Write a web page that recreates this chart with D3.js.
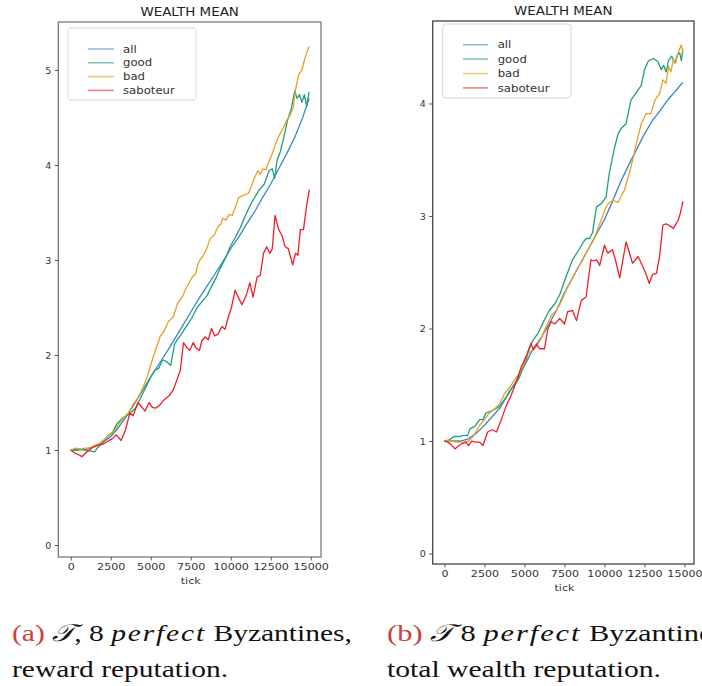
<!DOCTYPE html>
<html><head><meta charset="utf-8">
<script src="https://cdn.jsdelivr.net/npm/d3@7"></script>
<style>
html,body{margin:0;padding:0;background:#fff;}
svg{display:block;}
</style></head>
<body>
<svg id="c" width="702" height="686"></svg>
<script>
// ---------- DATA ----------
const seriesNames = ["all", "good", "bad", "saboteur"];
const seriesColors = ["#3a87c9", "#1f9f78", "#e8a024", "#ee1f2a"];
const xTickValues = [0, 2500, 5000, 7500, 10000, 12500, 15000];
const leftYTicks = [0, 1, 2, 3, 4, 5];
const rightYTicks = [0, 1, 2, 3, 4];
const chartTitle = "WEALTH MEAN";
const xLabel = "tick";

// left chart (a): reward reputation
const leftAll = [[0,1.0],[500,1.0],[1000,1.01],[1500,1.04],[2000,1.08],[2500,1.14],[3000,1.24],[3500,1.36],[4000,1.49],[4500,1.63],[5000,1.77],[5500,1.90],[6000,2.03],[6500,2.17],[7000,2.31],[7500,2.45],[8000,2.59],[8500,2.72],[9000,2.85],[9500,2.98],[10000,3.12],[10500,3.24],[11000,3.38],[11500,3.51],[12000,3.66],[12500,3.80],[13000,3.96],[13500,4.12],[14000,4.29],[14500,4.50],[14900,4.70]];
const leftGood = [[0,1.0],[300,1.0],[600,1.01],[900,1.0],[1200,0.99],[1500,0.98],[1700,1.03],[2000,1.08],[2300,1.14],[2600,1.18],[2900,1.28],[3200,1.33],[3500,1.36],[3800,1.40],[4100,1.45],[4400,1.56],[4700,1.66],[5000,1.77],[5250,1.84],[5500,1.86],[5750,1.95],[6000,1.93],[6250,1.89],[6500,2.12],[6750,2.18],[7000,2.24],[7300,2.32],[7600,2.40],[7900,2.50],[8200,2.56],[8500,2.62],[8800,2.72],[9100,2.82],[9400,2.93],[9700,3.03],[10000,3.15],[10300,3.24],[10600,3.34],[10900,3.46],[11200,3.57],[11500,3.66],[11800,3.74],[12100,3.80],[12400,3.94],[12600,3.96],[12750,3.86],[12900,4.05],[13100,4.14],[13300,4.28],[13550,4.47],[13800,4.60],[14000,4.78],[14150,4.70],[14300,4.74],[14450,4.66],[14600,4.74],[14750,4.62],[14900,4.77]];
const leftBad = [[0,1.0],[300,1.02],[600,1.01],[900,1.02],[1200,1.02],[1500,1.05],[1800,1.07],[2100,1.11],[2400,1.16],[2700,1.20],[3000,1.27],[3300,1.34],[3600,1.39],[3900,1.48],[4200,1.55],[4500,1.65],[4800,1.78],[5100,1.95],[5400,2.10],[5600,2.20],[5800,2.24],[6100,2.35],[6400,2.40],[6700,2.55],[7000,2.62],[7200,2.70],[7400,2.76],[7600,2.82],[7800,2.85],[8000,2.98],[8300,3.05],[8500,3.12],[8700,3.22],[9000,3.27],[9200,3.35],[9400,3.38],[9500,3.44],[9700,3.42],[9900,3.48],[10100,3.47],[10300,3.56],[10500,3.66],[10800,3.68],[11100,3.70],[11300,3.78],[11500,3.87],[11700,3.94],[11850,3.90],[12000,3.96],[12200,3.95],[12400,4.04],[12600,4.12],[12800,4.22],[13000,4.30],[13250,4.38],[13500,4.47],[13700,4.52],[13900,4.60],[14050,4.79],[14250,4.95],[14450,5.00],[14600,5.10],[14750,5.18],[14900,5.25]];
const leftSab = [[0,1.0],[250,0.97],[500,0.95],[700,0.93],[1000,0.98],[1300,1.02],[1700,1.05],[2000,1.06],[2300,1.09],[2600,1.12],[2850,1.16],[3150,1.10],[3400,1.20],[3700,1.39],[3900,1.36],[4200,1.50],[4450,1.45],[4650,1.41],[4900,1.50],[5100,1.45],[5300,1.44],[5550,1.47],[5850,1.53],[6150,1.57],[6400,1.63],[6600,1.72],[6850,1.84],[7050,2.13],[7250,2.08],[7450,2.05],[7650,2.13],[7850,2.07],[8050,2.05],[8200,2.15],[8400,2.19],[8600,2.16],[8800,2.28],[9000,2.20],[9200,2.22],[9450,2.30],[9650,2.27],[9850,2.40],[10050,2.50],[10270,2.68],[10500,2.60],[10700,2.53],[10950,2.62],[11200,2.76],[11400,2.61],[11650,2.82],[11850,2.84],[12050,3.07],[12250,3.14],[12450,3.07],[12600,3.12],[12770,3.47],[13000,3.32],[13200,3.26],[13400,3.14],[13600,3.12],[13875,2.95],[14050,3.07],[14200,3.05],[14350,3.32],[14550,3.32],[14750,3.58],[14915,3.74]];

// right chart (b): total wealth reputation
const rightAll = [[0,1.0],[500,1.0],[1000,1.0],[1500,1.02],[2000,1.07],[2500,1.14],[3000,1.22],[3500,1.30],[4000,1.42],[4500,1.54],[5000,1.67],[5500,1.81],[6000,1.91],[6500,2.03],[7000,2.16],[7500,2.32],[8000,2.45],[8500,2.58],[9000,2.71],[9500,2.84],[10000,2.97],[10500,3.13],[11000,3.30],[11500,3.45],[12000,3.59],[12500,3.73],[13000,3.85],[13500,3.94],[14000,4.04],[14500,4.12],[14900,4.19]];
const rightGood = [[0,1.0],[300,1.01],[600,1.04],[900,1.04],[1200,1.05],[1450,1.05],[1600,1.11],[1900,1.13],[2200,1.19],[2400,1.19],[2600,1.25],[3000,1.27],[3450,1.31],[3800,1.38],[4100,1.45],[4400,1.50],[4700,1.57],[5100,1.72],[5300,1.82],[5550,1.90],[5850,1.96],[6150,2.05],[6550,2.16],[6900,2.22],[7200,2.30],[7600,2.46],[8000,2.61],[8400,2.70],[8650,2.76],[8850,2.80],[9050,2.80],[9250,2.85],[9500,3.08],[9800,3.11],[10100,3.17],[10300,3.38],[10650,3.62],[10850,3.73],[11050,3.78],[11350,3.82],[11650,4.03],[12000,4.10],[12300,4.16],[12500,4.30],[12750,4.38],[13050,4.40],[13350,4.37],[13550,4.30],[13700,4.34],[13850,4.28],[14000,4.38],[14200,4.42],[14400,4.36],[14550,4.43],[14700,4.45],[14800,4.38],[14900,4.48]];
const rightBad = [[0,1.0],[400,1.0],[800,0.99],[1200,0.99],[1500,1.0],[1800,1.04],[2200,1.14],[2500,1.19],[2800,1.25],[3100,1.28],[3450,1.33],[3750,1.42],[4100,1.48],[4400,1.55],[4700,1.60],[5000,1.70],[5200,1.78],[5450,1.80],[5750,1.84],[6000,1.90],[6350,2.02],[6700,2.12],[7000,2.16],[7300,2.24],[7600,2.34],[7900,2.42],[8250,2.52],[8600,2.60],[9050,2.72],[9300,2.78],[9700,2.93],[10100,3.08],[10300,3.12],[10550,3.14],[10850,3.12],[11050,3.18],[11250,3.23],[11550,3.38],[11800,3.52],[12000,3.65],[12300,3.82],[12600,3.91],[12900,3.91],[13150,4.03],[13450,4.09],[13650,4.21],[13850,4.18],[14000,4.33],[14150,4.28],[14300,4.39],[14450,4.36],[14600,4.45],[14800,4.52],[14900,4.45]];
const rightSab = [[0,1.0],[200,0.99],[400,0.97],[650,0.93],[900,0.96],[1150,0.98],[1350,0.99],[1500,0.96],[1700,1.0],[1950,0.99],[2200,0.99],[2400,0.96],[2700,1.08],[3000,1.10],[3250,1.08],[3550,1.19],[3850,1.31],[4150,1.40],[4450,1.51],[4800,1.66],[5100,1.75],[5400,1.87],[5550,1.81],[5750,1.86],[5950,1.82],[6250,1.82],[6450,1.99],[6650,2.06],[6900,2.04],[7200,2.09],[7500,2.04],[7700,2.15],[8000,2.16],[8250,2.07],[8550,2.25],[8850,2.28],[9150,2.61],[9300,2.60],[9500,2.61],[9700,2.56],[10000,2.74],[10200,2.67],[10500,2.70],[10700,2.60],[10950,2.45],[11350,2.77],[11500,2.70],[11750,2.58],[12100,2.64],[12300,2.58],[12550,2.50],[12800,2.40],[13000,2.48],[13250,2.49],[13450,2.65],[13650,2.92],[13850,2.93],[14000,2.92],[14300,2.89],[14600,2.96],[14750,3.03],[14900,3.13]];

const leftCaption = {label: "(a)", sym: "\u{1D4AF}", rest1: ", 8 ", ital: "perfect", rest2: " Byzantines,", line2: "reward reputation."};
const rightCaption = {label: "(b)", sym: "\u{1D4AF}", rest1: " 8 ", ital: "perfect", rest2: " Byzantines,", line2: "total wealth reputation."};

// ---------- DRAW ----------
const svg = d3.select("#c");
const SX = 1.17; // horizontal stretch of the original raster text

function stext(g, x, y, txt, size, anchor, fill) {
  return g.append("text")
    .attr("transform", `translate(${x},${y}) scale(${SX},1)`)
    .attr("text-anchor", anchor || "start")
    .attr("font-family", "DejaVu Sans, sans-serif")
    .attr("font-size", size)
    .attr("fill", fill || "#333")
    .text(txt);
}

function drawChart(cfg) {
  const g = svg.append("g");
  const x = d3.scaleLinear().domain(cfg.xDomain).range([cfg.left, cfg.right]);
  const y = d3.scaleLinear().domain(cfg.yDomain).range([cfg.bottom, cfg.top]);

  const line = d3.line().x(d => x(d[0])).y(d => y(d[1]));
  cfg.series.forEach((s, i) => {
    g.append("path").datum(s).attr("d", line)
      .attr("fill", "none").attr("stroke", seriesColors[i])
      .attr("stroke-width", 1.3).attr("stroke-linejoin", "round");
  });

  g.append("rect").attr("x", cfg.left).attr("y", cfg.top)
    .attr("width", cfg.right - cfg.left).attr("height", cfg.bottom - cfg.top)
    .attr("fill", "none").attr("stroke", cfg.frame).attr("stroke-width", 1.3);

  const ax = g.append("g").attr("transform", `translate(0,${cfg.bottom})`)
    .call(d3.axisBottom(x).tickValues(xTickValues).tickFormat(d3.format("d")).tickSize(3.5).tickPadding(3));
  const ay = g.append("g").attr("transform", `translate(${cfg.left},0)`)
    .call(d3.axisLeft(y).tickValues(cfg.yTicks).tickFormat(d3.format("d")).tickSize(3.5).tickPadding(5));
  [ax, ay].forEach(a => {
    a.select(".domain").remove();
    a.selectAll(".tick line").attr("stroke", "#555");
    a.selectAll(".tick text").attr("font-family", "DejaVu Sans, sans-serif")
      .attr("font-size", 9.5).attr("fill", "#333");
  });
  ax.selectAll(".tick text").attr("transform", `scale(${SX},1)`);
  ay.selectAll(".tick text").attr("x", -7);

  stext(g, (cfg.left + cfg.right) / 2, cfg.top - 6.5, chartTitle, 11.5, "middle", "#222");
  stext(g, x(7500), cfg.xLabelY, xLabel, 9.5, "middle", "#333");

  const L = cfg.legend;
  g.append("rect").attr("x", L.x).attr("y", L.y).attr("width", L.w).attr("height", L.h)
    .attr("rx", 3).attr("fill", "#fff").attr("fill-opacity", 0.85)
    .attr("stroke", "#d6d6d6").attr("stroke-width", 1);
  seriesNames.forEach((n, i) => {
    const cy = L.row0 + i * L.dy;
    g.append("line").attr("x1", L.lx1).attr("x2", L.lx2).attr("y1", cy).attr("y2", cy)
      .attr("stroke", seriesColors[i]).attr("stroke-width", 1.5).attr("stroke-opacity", 0.6);
    stext(g, L.tx, cy + 3.6, n, 10, "start", "#333");
  });
}

drawChart({
  left: 58.3, right: 321, top: 22, bottom: 557,
  xDomain: [-775, 15644], yDomain: [-0.126, 5.505],
  yTicks: leftYTicks, frame: "#7a7a7a", xLabelY: 584,
  series: [leftAll, leftGood, leftBad, leftSab],
  legend: {x: 68, y: 28, w: 128, h: 72, row0: 49, dy: 13.8, lx1: 88, lx2: 114, tx: 123}
});
drawChart({
  left: 432.7, right: 694, top: 21, bottom: 564,
  xDomain: [-737, 15594], yDomain: [-0.093, 4.733],
  yTicks: rightYTicks, frame: "#444", xLabelY: 591,
  series: [rightAll, rightGood, rightBad, rightSab],
  legend: {x: 442.7, y: 24, w: 128.3, h: 74, row0: 44.7, dy: 14.4, lx1: 463, lx2: 488, tx: 497.7}
});

function caption(c, x, y1, y2, w1, w2) {
  const t = svg.append("text").attr("x", x).attr("y", y1)
    .attr("font-family", "'Liberation Serif', serif").attr("font-size", 24).attr("fill", "#111")
    .attr("textLength", w1).attr("lengthAdjust", "spacingAndGlyphs");
  t.append("tspan").attr("fill", "#c8413a").text(c.label + " ");
  t.append("tspan").attr("font-style", "italic").text(c.sym);
  t.append("tspan").text(c.rest1);
  t.append("tspan").attr("font-style", "italic").attr("letter-spacing", 1.5).text(c.ital);
  t.append("tspan").text(c.rest2);
  svg.append("text").attr("x", x).attr("y", y2)
    .attr("font-family", "'Liberation Serif', serif").attr("font-size", 24).attr("fill", "#111")
    .attr("textLength", w2).attr("lengthAdjust", "spacingAndGlyphs").text(c.line2);
}
caption(leftCaption, 12, 641, 677, 340, 216);
caption(rightCaption, 387, 641, 677, 345, 274);
</script>
</body></html>
